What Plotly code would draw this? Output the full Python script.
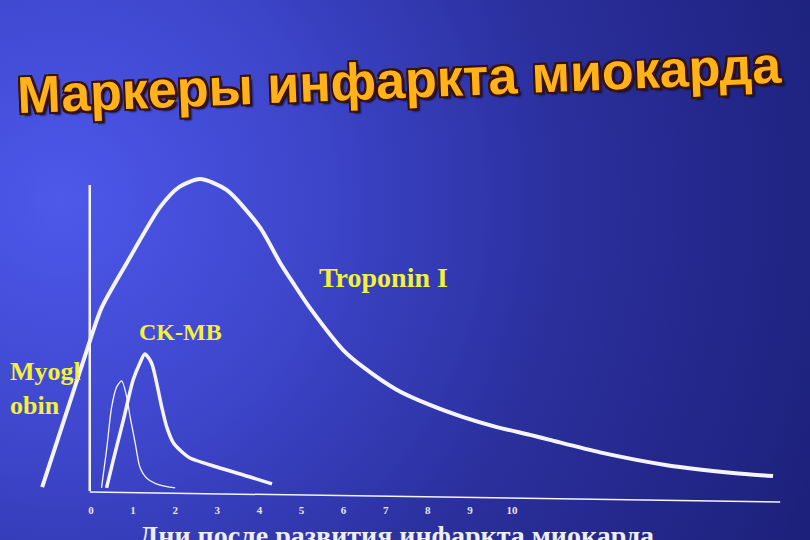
import base64
import plotly.graph_objects as go

# ---------------- data (days after infarction, relative concentration) -------------
troponin_days = [-1.16, -0.02, 0.25, 0.85, 1.64, 2.10, 2.59, 3.22, 4.01, 4.49, 4.80,
                 5.20, 5.99, 6.46, 7.27, 8.05, 8.84, 9.64, 10.43, 10.90, 12.09,
                 13.68, 15.25, 16.20]
troponin_vals = [1.6, 48.7, 59.0, 73.4, 91.3, 97.8, 100.3, 96.8, 84.9, 73.5, 67.0,
                 59.0, 45.5, 40.1, 32.7, 27.9, 24.0, 20.8, 18.3, 16.7, 12.7,
                 8.6, 6.1, 5.1]

myoglobin_days = [0.25, 0.37, 0.49, 0.61, 0.73, 0.85, 0.93, 1.05, 1.16, 1.32, 1.64, 2.00]
myoglobin_vals = [1.3, 13.5, 27.2, 33.7, 35.6, 30.4, 24.0, 15.7, 8.0, 4.5, 2.2, 1.3]

ckmb_days = [0.37, 0.53, 0.77, 1.00, 1.16, 1.28, 1.44, 1.56, 1.68, 1.80, 1.96,
             2.19, 2.35, 2.99, 3.78, 4.30]
ckmb_vals = [1.3, 10.3, 23.1, 35.9, 41.3, 44.2, 41.3, 34.9, 27.2, 20.8, 15.7,
             12.5, 10.9, 8.0, 4.8, 2.6]

tick_values = list(range(0, 11))
tick_labels = [str(v) for v in tick_values]

title_text = "Маркеры инфаркта миокарда"
xaxis_title = "Дни после развития инфаркта миокарда"
label_troponin = "Troponin I"
label_ckmb = "CK-MB"
label_myoglobin = "Myogl<br>obin"

# ---------------- styling / layout constants ----------------
X_RANGE = [-2.1615, 17.078]
Y_RANGE = [-5.769, 157.69]
LINE_COLOR = "#f4f4fa"
LABEL_COLOR = "#f2f23a"
SERIF = "Liberation Serif, Times New Roman, serif"

svg = """<svg xmlns='http://www.w3.org/2000/svg' width='810' height='540' viewBox='0 0 810 540'>
<defs>
<radialGradient id='g' cx='60' cy='200' r='820' gradientUnits='userSpaceOnUse'>
<stop offset='0' stop-color='#4e58ea'/>
<stop offset='0.3' stop-color='#3e46cc'/>
<stop offset='0.62' stop-color='#2a2f9c'/>
<stop offset='1' stop-color='#1d207a'/>
</radialGradient>
</defs>
<rect width='810' height='540' fill='url(#g)'/>
</svg>"""
bg_uri = "data:image/svg+xml;base64," + base64.b64encode(svg.encode()).decode()

fig = go.Figure()

fig.add_trace(go.Scatter(x=troponin_days, y=troponin_vals, mode="lines",
                         line=dict(color=LINE_COLOR, width=4, shape="spline", smoothing=0.7),
                         name="Troponin I", hoverinfo="skip"))
fig.add_trace(go.Scatter(x=ckmb_days, y=ckmb_vals, mode="lines",
                         line=dict(color=LINE_COLOR, width=3.5, shape="spline", smoothing=0.7),
                         name="CK-MB", hoverinfo="skip"))
fig.add_trace(go.Scatter(x=myoglobin_days, y=myoglobin_vals, mode="lines",
                         line=dict(color=LINE_COLOR, width=1.3, shape="spline", smoothing=0.7),
                         name="Myoglobin", hoverinfo="skip"))

# hand-drawn axes of the slide
fig.add_shape(type="line", x0=-0.03, y0=0.3, x1=-0.03, y1=98.4,
              line=dict(color=LINE_COLOR, width=2.5), layer="above")
fig.add_shape(type="line", x0=-0.03, y0=0, x1=16.37, y1=-3.2,
              line=dict(color=LINE_COLOR, width=1.5), layer="above")

annotations = [
    dict(text=title_text, xref="paper", yref="paper", x=0.493, y=0.843,
         xanchor="center", yanchor="middle",
         showarrow=False, textangle=-2.3,
         font=dict(family="Liberation Sans, Arial, sans-serif",
                   size=52, color="#ffb21a", weight="bold",
                   shadow="-2px -2px 0 #3a1200, 2px -2px 0 #3a1200, -2px 2px 0 #3a1200, 2px 2px 0 #3a1200, 3px 3px 2px #10103a")),
    dict(text=label_troponin, x=6.936, y=68.6, showarrow=False,
         font=dict(family=SERIF, size=28, color=LABEL_COLOR, weight="bold")),
    dict(text=label_ckmb, x=2.114, y=51.3, showarrow=False,
         font=dict(family=SERIF, size=24, color=LABEL_COLOR, weight="bold")),
    dict(text=label_myoglobin, x=-1.98, y=33.3, showarrow=False, xanchor="left", align="left",
         font=dict(family=SERIF, size=26, color=LABEL_COLOR, weight="bold")),
    dict(text=xaxis_title, xref="paper", yref="paper", x=0.49, y=-0.0157, yanchor="top",
         showarrow=False,
         font=dict(family=SERIF, size=28, color="#eeeef4", weight="bold")),
]

fig.update_layout(
    width=810, height=540,
    margin=dict(l=0, r=0, t=0, b=30),
    paper_bgcolor="#1f2280",
    plot_bgcolor="rgba(0,0,0,0)",
    showlegend=False,
    images=[dict(source=bg_uri, xref="paper", yref="paper", x=0, y=1,
                 sizex=1, sizey=540 / 510, xanchor="left", yanchor="top",
                 sizing="stretch", layer="below")],
    annotations=annotations,
    xaxis=dict(range=X_RANGE, showgrid=False, zeroline=False, showline=False,
               tickmode="array", tickvals=tick_values, ticktext=tick_labels,
               ticks="", ticklabelstandoff=-8,
               tickfont=dict(family=SERIF, size=11, color="#e6e6f0", weight="bold"),
               fixedrange=True),
    yaxis=dict(range=Y_RANGE, showgrid=False, zeroline=False, showline=False,
               showticklabels=False, ticks="", fixedrange=True),
)

fig.write_html("out.html", config={"displayModeBar": False},
               post_script="document.body.style.margin='0';document.body.style.overflow='hidden';")
